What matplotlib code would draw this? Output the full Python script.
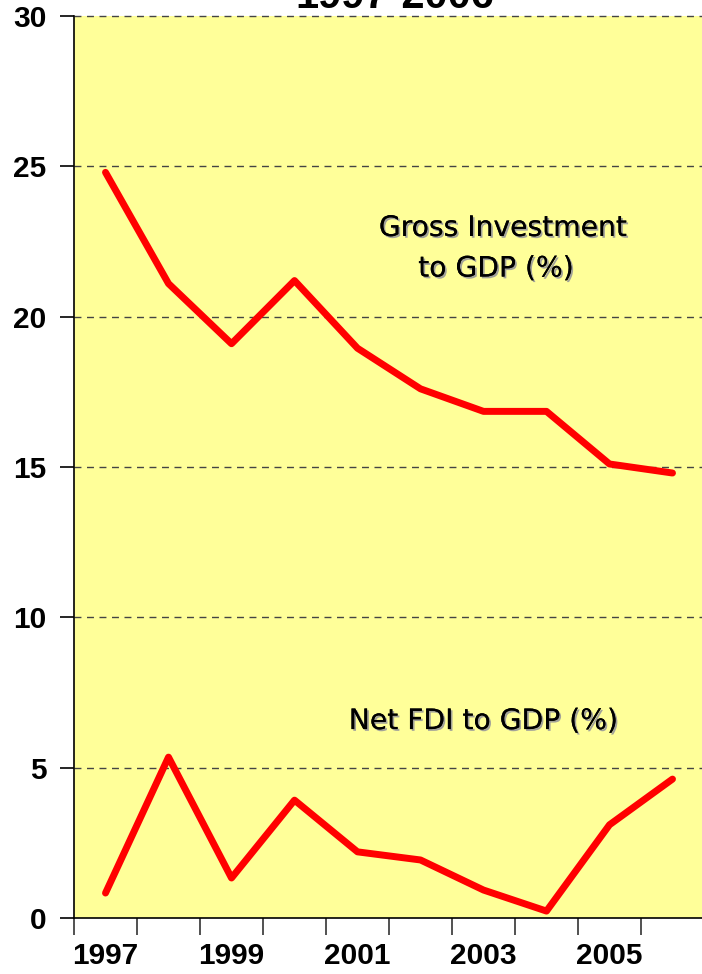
import matplotlib.pyplot as plt
import matplotlib.patheffects as pe
import numpy as np

# values
years = ['1997', '1998', '1999', '2000', '2001', '2002', '2003', '2004', '2005', '2006']
gross_inv = [24.8, 21.1, 19.1, 21.2, 18.95, 17.6, 16.85, 16.85, 15.1, 14.8]
net_fdi = [0.83, 5.35, 1.33, 3.92, 2.2, 1.93, 0.93, 0.23, 3.1, 4.62]
y_ticks = [0, 5, 10, 15, 20, 25, 30]

W, H = 702, 974
fig = plt.figure(figsize=(W / 100, H / 100), dpi=100)
ax = fig.add_axes([74 / W, (H - 918) / H, 630 / W, 902 / H])
ax.set_facecolor('#FFFF99')

x = np.arange(len(years))
ax.plot(x, gross_inv, color='#FF0000', lw=5, solid_capstyle='round', zorder=3)
ax.plot(x, net_fdi, color='#FF0000', lw=5, solid_capstyle='round', zorder=3)

ax.set_xlim(-0.5, len(years) - 0.5)
ax.set_ylim(0, 30)

# gridlines
for v in y_ticks[1:]:
    ax.axhline(v, color='#444444', lw=1, ls=(0, (5, 4)), zorder=2, clip_on=False)

tick_font = dict(family=['Liberation Sans', 'DejaVu Sans'], weight='bold', size=21.5)

ax.set_yticks(y_ticks)
ax.set_yticklabels([str(v) for v in y_ticks], **tick_font)
ax.tick_params(axis='y', length=10, width=1.2, pad=10, color='black')

ax.set_xticks(np.arange(-0.5, len(years), 1.0))
ax.set_xticklabels([])
ax.tick_params(axis='x', which='major', length=12, width=1.2, direction='out', color='#333333')
ax.set_xticks(x[::2], minor=True)
ax.set_xticklabels(years[::2], minor=True, **tick_font)
ax.tick_params(axis='x', which='minor', length=0, pad=17)

for s in ['top', 'right']:
    ax.spines[s].set_visible(False)
ax.spines['left'].set_linewidth(1.2)
ax.spines['bottom'].set_linewidth(1.2)

shadow = [pe.withSimplePatchShadow(offset=(1.3, -1.3), shadow_rgbFace='#999999', alpha=0.9), pe.Normal()]
lab_font = dict(family=['DejaVu Sans'], size=20.3, ha='center', va='center', color='black', path_effects=shadow)
ax.text(6.31, 22.95, 'Gross Investment', **lab_font)
ax.text(6.2, 21.6, 'to GDP (%)', **lab_font)
ax.text(6.0, 6.55, 'Net FDI to GDP (%)', **lab_font)

fig.text(395 / W, 1 - 8 / H, '1997-2006', ha='center', va='baseline',
         family=['Liberation Sans', 'DejaVu Sans'], weight='bold', size=30)

fig.savefig('out.png', dpi=100)
